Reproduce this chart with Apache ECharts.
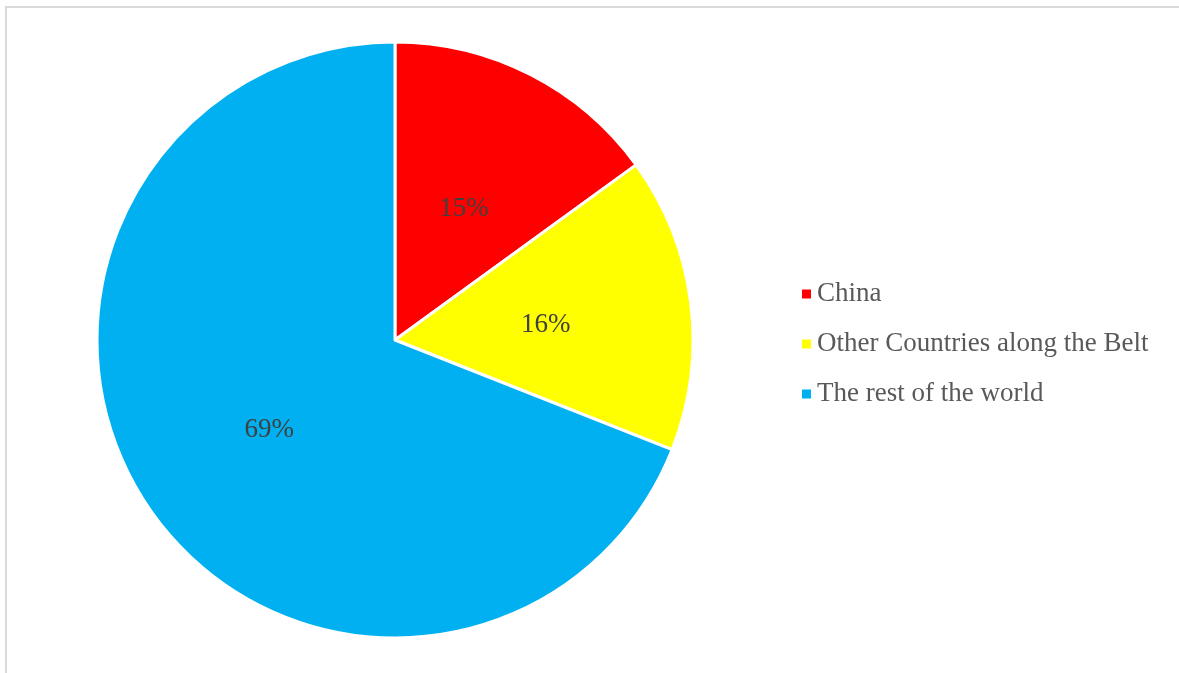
<!DOCTYPE html>
<html>
<head>
<meta charset="utf-8">
<script src="https://cdn.jsdelivr.net/npm/echarts@6/dist/echarts.min.js"></script>
<style>
  html, body { margin: 0; padding: 0; background: #fff; }
  #chart { width: 1179px; height: 673px; }
</style>
</head>
<body>
<div id="chart"></div>
<script>
// Share of total, by region
const categories = ['China', 'Other Countries along the Belt', 'The rest of the world'];
const shares = [15, 16, 69];
const colors = ['#ff0000', '#ffff00', '#00b0f0'];

const chart = echarts.init(document.getElementById('chart'), null, { renderer: 'canvas' });

const font = '"Liberation Serif", "Times New Roman", serif';

chart.setOption({
  animation: false,
  backgroundColor: '#ffffff',
  graphic: [{
    type: 'rect',
    shape: { x: 6, y: 7, width: 1200, height: 700 },
    style: { fill: 'none', stroke: '#d9d9d9', lineWidth: 2 },
    silent: true,
    z: -1
  }],
  legend: {
    orient: 'vertical',
    left: 797,
    top: 274,
    itemWidth: 9,
    itemHeight: 9,
    itemGap: 20,
    icon: 'rect',
    itemStyle: { borderWidth: 0 },
    textStyle: {
      fontFamily: font,
      fontSize: 27,
      color: '#595959',
      lineHeight: 30,
      padding: [0, 0, 0, 1]
    },
    data: categories
  },
  series: [{
    type: 'pie',
    center: [395, 340],
    radius: 298,
    startAngle: 90,
    clockwise: true,
    color: colors,
    itemStyle: { borderColor: '#ffffff', borderWidth: 3 },
    label: {
      show: true,
      position: 'inside',
      formatter: '{d}%',
      fontFamily: font,
      fontSize: 27,
      color: '#404040',
      offset: [0, 4]
    },
    labelLine: { show: false },
    emphasis: { disabled: true },
    data: categories.map((name, i) => ({ name, value: shares[i] }))
  }]
});
</script>
</body>
</html>
